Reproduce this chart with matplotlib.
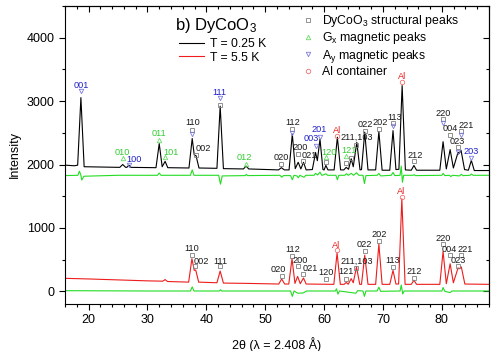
import numpy as np
import matplotlib.pyplot as plt
from matplotlib.lines import Line2D
from matplotlib.ticker import MultipleLocator

plt.rcParams['font.family'] = ['Liberation Sans', 'DejaVu Sans']
plt.rcParams['mathtext.fontset'] = 'custom'
plt.rcParams['mathtext.rm'] = 'Liberation Sans'

# T = 0.25 K pattern (2theta, intensity)
cold_x = [16.0, 17.6, 18.15, 18.7, 19.25, 25.3, 25.8, 26.3, 26.5, 26.85, 27.2,
          31.45, 32.0, 32.5, 33.0, 33.45, 37.05, 37.6, 37.95, 38.25, 38.75,
          41.8, 42.35, 42.9, 46.3, 46.75, 47.2, 52.25, 52.75, 53.25,
          54.05, 54.6, 55.1, 55.6, 56.05, 56.5, 56.95,
          58.0, 58.55, 58.85, 59.3, 59.8, 60.0, 60.3, 60.65,
          61.7, 62.25, 62.8, 63.35, 63.75, 64.15, 64.6, 64.95, 65.55, 66.1,
          66.35, 66.9, 67.45, 68.75, 69.3, 69.85, 71.15, 71.7, 72.2,
          72.7, 73.25, 73.8, 74.8, 75.25, 75.7, 79.65, 80.2, 80.75,
          81.4, 81.95, 82.75, 82.95, 83.25, 83.85, 84.5, 85.0, 85.5, 88.0]
cold_y = [1990, 1980, 1990, 3055, 1965, 1955, 2000, 1955, 1955, 1990, 1955,
          1950, 2330, 1965, 2050, 1950, 1945, 2410, 2150, 2140, 1945,
          1940, 2920, 1935, 1930, 1975, 1930, 1915, 1950, 1915,
          1915, 2480, 1935, 2035, 1930, 2035, 1915,
          1920, 2190, 2060, 2400, 1920, 1915, 1985, 1915,
          1915, 2430, 1915, 1915, 1955, 1925, 2090, 1965, 2350, 1915,
          1920, 2510, 1915, 1915, 2520, 1910, 1910, 2535, 1920,
          1925, 3245, 1915, 1910, 1985, 1910, 1910, 2360, 1930,
          2235, 1945, 2195, 2175, 2225, 1920, 1910, 2065, 1905, 1905]

# T = 5.5 K pattern
warm_x = [16.0, 20.0, 25.0, 30.0, 32.6, 33.0, 33.4, 37.0, 37.55, 37.95, 38.2,
          38.7, 41.8, 42.35, 42.9, 47.0, 52.3, 52.8, 53.3,
          54.0, 54.55, 55.05, 55.5, 55.95, 56.5, 56.95,
          61.65, 62.2, 62.75, 63.4, 63.75, 64.1, 64.6, 64.95, 65.5, 66.05,
          66.35, 66.9, 67.45, 68.75, 69.3, 69.85, 71.15, 71.7, 72.2,
          72.65, 73.2, 73.75, 74.8, 75.25, 75.7, 79.65, 80.2, 80.75,
          81.4, 81.95, 82.75, 82.95, 83.3, 83.9, 88.0]
warm_y = [205, 195, 180, 165, 160, 185, 155, 145, 515, 330, 335,
          145, 135, 320, 130, 125, 115, 195, 115,
          115, 515, 125, 235, 120, 210, 115,
          110, 605, 110, 110, 140, 112, 200, 135, 385, 110,
          110, 570, 110, 110, 745, 110, 110, 330, 115,
          115, 1460, 110, 110, 175, 110, 110, 630, 120,
          435, 135, 370, 355, 385, 115, 110]

# difference curves (green)
diff_hi_x = [16.0, 18.2, 18.45, 18.7, 18.85, 19.2, 25.0, 31.7, 32.0, 32.3, 37.3,
             37.6, 37.9, 42.1, 42.4, 42.7, 46.6, 46.8, 47.0, 52.5, 52.8, 53.1,
             54.3, 54.6, 54.9, 55.4, 55.6, 55.9, 56.3, 56.6, 56.9, 58.3, 58.55,
             58.9, 59.3, 59.6, 60.0, 60.3, 60.6, 62.0, 62.25, 62.5, 63.5, 63.8,
             64.1, 64.6, 65.0, 65.5, 65.9, 66.6, 66.85, 67.1, 69.0, 69.3, 69.6,
             71.4, 71.7, 72.0, 72.9, 73.1, 73.3, 73.5, 75.1, 75.3, 75.5, 80.0,
             80.2, 80.5, 81.3, 81.5, 81.8, 83.0, 83.3, 83.6, 84.8, 85.0, 85.3, 88.0]
diff_hi_y = [1825, 1830, 1895, 1830, 1755, 1815, 1830, 1830, 1865, 1830, 1830,
             1915, 1830, 1830, 1690, 1820, 1825, 1845, 1825, 1830, 1800, 1825,
             1825, 1760, 1830, 1820, 1790, 1830, 1810, 1800, 1830, 1830, 1860,
             1835, 1880, 1830, 1840, 1855, 1830, 1830, 1760, 1830, 1830, 1855,
             1830, 1860, 1830, 1870, 1830, 1830, 1700, 1825, 1830, 1860, 1820,
             1830, 1875, 1825, 1830, 1975, 1720, 1830, 1830, 1840, 1825, 1830,
             1860, 1825, 1830, 1810, 1830, 1820, 1845, 1825, 1830, 1850, 1830, 1830]
diff_lo_x = [16.0, 30.0, 37.3, 37.6, 37.9, 42.2, 42.4, 42.6, 54.3, 54.6, 54.9,
             55.5, 56.5, 57.0, 61.9, 62.1, 62.35, 62.6, 65.4, 65.7, 66.6, 66.85,
             67.1, 69.0, 69.3, 69.6, 72.9, 73.1, 73.35, 73.6, 80.0, 80.2, 80.5,
             81.4, 81.7, 88.0]
diff_lo_y = [10, 5, 5, 70, 5, 5, 25, 5, 5, -80, 5,
             -30, -25, 5, 5, 40, -45, 5, -30, 10, 5, -80,
             5, 5, 65, 0, 5, 100, -40, 5, 5, 60, 0,
             -20, 5, 5]

# peak labels: text, 2theta, intensity, colour key
cold_labels = [("001", 18.75, 3245, "ay"), ("010", 25.8, 2195, "gx"),
               ("100", 27.8, 2080, "ay"), ("011", 32.0, 2495, "gx"),
               ("101", 34.0, 2195, "gx"), ("110", 37.7, 2655, "st"),
               ("002", 39.5, 2245, "st"), ("111", 42.3, 3140, "ay"),
               ("012", 46.4, 2115, "gx"), ("020", 52.8, 2115, "st"),
               ("112", 54.6, 2655, "st"), ("200", 56.0, 2275, "st"),
               ("021", 57.5, 2150, "st"), ("003", 57.8, 2405, "ay"),
               ("201", 59.15, 2545, "ay"), ("120", 60.85, 2195, "gx"),
               ("Al", 62.2, 2535, "al"), ("121", 64.3, 2215, "gx"),
               ("211,103", 65.5, 2430, "st"), ("022", 67.0, 2630, "st"),
               ("202", 69.5, 2655, "st"), ("113", 71.9, 2745, "st"),
               ("Al", 73.2, 3385, "al"), ("212", 75.4, 2140, "st"),
               ("220", 80.2, 2810, "st"), ("004", 81.5, 2570, "st"),
               ("221", 84.2, 2615, "st"), ("023", 82.6, 2360, "st"),
               ("203", 85.0, 2205, "ay")]
warm_labels = [("110", 37.55, 670, "st"), ("002", 39.1, 475, "st"),
               ("111", 42.4, 475, "st"), ("020", 52.25, 340, "st"),
               ("112", 54.6, 655, "st"), ("200", 56.0, 485, "st"),
               ("021", 57.7, 355, "st"), ("120", 60.3, 290, "st"),
               ("Al", 62.0, 725, "al"), ("211,103", 65.5, 475, "st"),
               ("121", 63.8, 305, "st"), ("022", 66.9, 740, "st"),
               ("202", 69.3, 890, "st"), ("113", 71.7, 490, "st"),
               ("Al", 73.15, 1575, "al"), ("212", 75.25, 305, "st"),
               ("220", 80.2, 830, "st"), ("004", 81.2, 660, "st"),
               ("221", 84.0, 660, "st"), ("023", 82.75, 490, "st")]

# peak markers
struct_x = [37.6, 38.25, 42.35, 52.7, 54.6, 55.6, 56.5, 60.3, 63.75, 64.6, 65.5,
            66.9, 69.3, 71.7, 75.2, 80.2, 81.4, 82.7, 83.3,
            37.55, 38.1, 42.35, 52.8, 54.55, 55.5, 56.5, 60.3, 63.7, 65.5, 66.9,
            69.3, 71.7, 75.25, 80.2, 81.4, 83.3, 82.75]
struct_y = [2545, 2150, 2945, 2010, 2560, 2165, 2055, 2035, 2030, 2110, 2315,
            2525, 2555, 2660, 2055, 2710, 2465, 2275, 2525,
            565, 395, 395, 235, 550, 395, 275, 195, 195, 370, 635,
            790, 385, 215, 740, 565, 565, 395]
gx_x = [25.8, 32.0, 33.0, 46.7, 60.3, 63.8]
gx_y = [2105, 2390, 2120, 2010, 2120, 2130]
ay_x = [18.7, 26.85, 37.6, 42.35, 54.6, 58.6, 59.3, 71.7, 80.2, 82.75, 83.3, 85.0]
ay_y = [3155, 1995, 2480, 3045, 2495, 2290, 2440, 2600, 2655, 2195, 2465, 2105]
al_x = [62.2, 73.2, 62.15, 73.15]
al_y = [2450, 3295, 645, 1485]

text_col = {"st": "#1a1a1a", "gx": "#33cc33", "ay": "#2020c8", "al": "#e62020"}
mark_col = {"st": "#808080", "gx": "#66dd66", "ay": "#7a7ae0", "al": "#f07070"}

fig = plt.figure(figsize=(4.91, 3.51), dpi=100)
ax = fig.add_axes([65/491, 1-304/351, 424/491, 298/351])

ax.plot(diff_hi_x, diff_hi_y, color='#22dd22', lw=0.8)
ax.plot(diff_lo_x, diff_lo_y, color='#22dd22', lw=0.8)
l_cold, = ax.plot(cold_x, cold_y, color='black', lw=0.8, label='T = 0.25 K')
l_warm, = ax.plot(warm_x, warm_y, color='#ee1c1c', lw=0.8, label='T = 5.5 K')

mk = dict(ls='none', ms=3.2, mfc='none', mew=0.6)
ax.plot(struct_x, struct_y, marker='s', mec=mark_col["st"], **mk)
ax.plot(gx_x, gx_y, marker='^', mec=mark_col["gx"], **mk)
ax.plot(ay_x, ay_y, marker='v', mec=mark_col["ay"], **mk)
ax.plot(al_x, al_y, marker='o', mec=mark_col["al"], **mk)

for txt, x, y, c in cold_labels + warm_labels:
    ax.text(x, y, txt, color=text_col[c], fontsize=6.6, ha='center', va='center')

ax.text(0.259, 0.936, r'b) DyCoO$\mathregular{_3}$', transform=ax.transAxes,
        fontsize=12, va='center', ha='left')

leg1 = ax.legend(handles=[l_cold, l_warm], loc='upper left', bbox_to_anchor=(0.269, 0.893),
                 frameon=False, fontsize=8.8, handlelength=2.0, handletextpad=0.5,
                 labelspacing=0.15, borderpad=0, borderaxespad=0)
ax.add_artist(leg1)
handles = [Line2D([], [], marker='s', mec=mark_col["st"], label=r'DyCoO$\mathregular{_3}$ structural peaks', **mk),
           Line2D([], [], marker='^', mec=mark_col["gx"], label=r'$\mathregular{G_x}$ magnetic peaks', **mk),
           Line2D([], [], marker='v', mec=mark_col["ay"], label=r'$\mathregular{A_y}$ magnetic peaks', **mk),
           Line2D([], [], marker='o', mec=mark_col["al"], label='Al container', **mk)]
ax.legend(handles=handles, loc='upper left', bbox_to_anchor=(0.558, 0.977), frameon=False,
          fontsize=8.8, handlelength=1.0, handletextpad=0.7, labelspacing=0.12,
          borderpad=0, borderaxespad=0)

ax.set_xlim(16, 88)
ax.set_ylim(-200, 4500)
ax.xaxis.set_major_locator(MultipleLocator(10))
ax.xaxis.set_minor_locator(MultipleLocator(2))
ax.yaxis.set_major_locator(MultipleLocator(1000))
ax.yaxis.set_minor_locator(MultipleLocator(500))
ax.tick_params(which='both', direction='out', labelsize=9, width=0.8)
ax.tick_params(which='major', length=4)
ax.tick_params(which='minor', length=2.5)

top = ax.secondary_xaxis('top')
top.xaxis.set_major_locator(MultipleLocator(10))
top.xaxis.set_minor_locator(MultipleLocator(2))
top.tick_params(which='both', direction='in', labeltop=False, width=0.8)
top.tick_params(which='major', length=4)
top.tick_params(which='minor', length=2.5)
right = ax.secondary_yaxis('right')
right.yaxis.set_major_locator(MultipleLocator(1000))
right.yaxis.set_minor_locator(MultipleLocator(500))
right.tick_params(which='both', direction='in', labelright=False, width=0.8)
right.tick_params(which='major', length=4)
right.tick_params(which='minor', length=2.5)

ax.set_xlabel('2θ (λ = 2.408 Å)', fontsize=9, labelpad=8)
ax.set_ylabel('Intensity', fontsize=9, labelpad=4)

fig.savefig('out.png', dpi=100)
